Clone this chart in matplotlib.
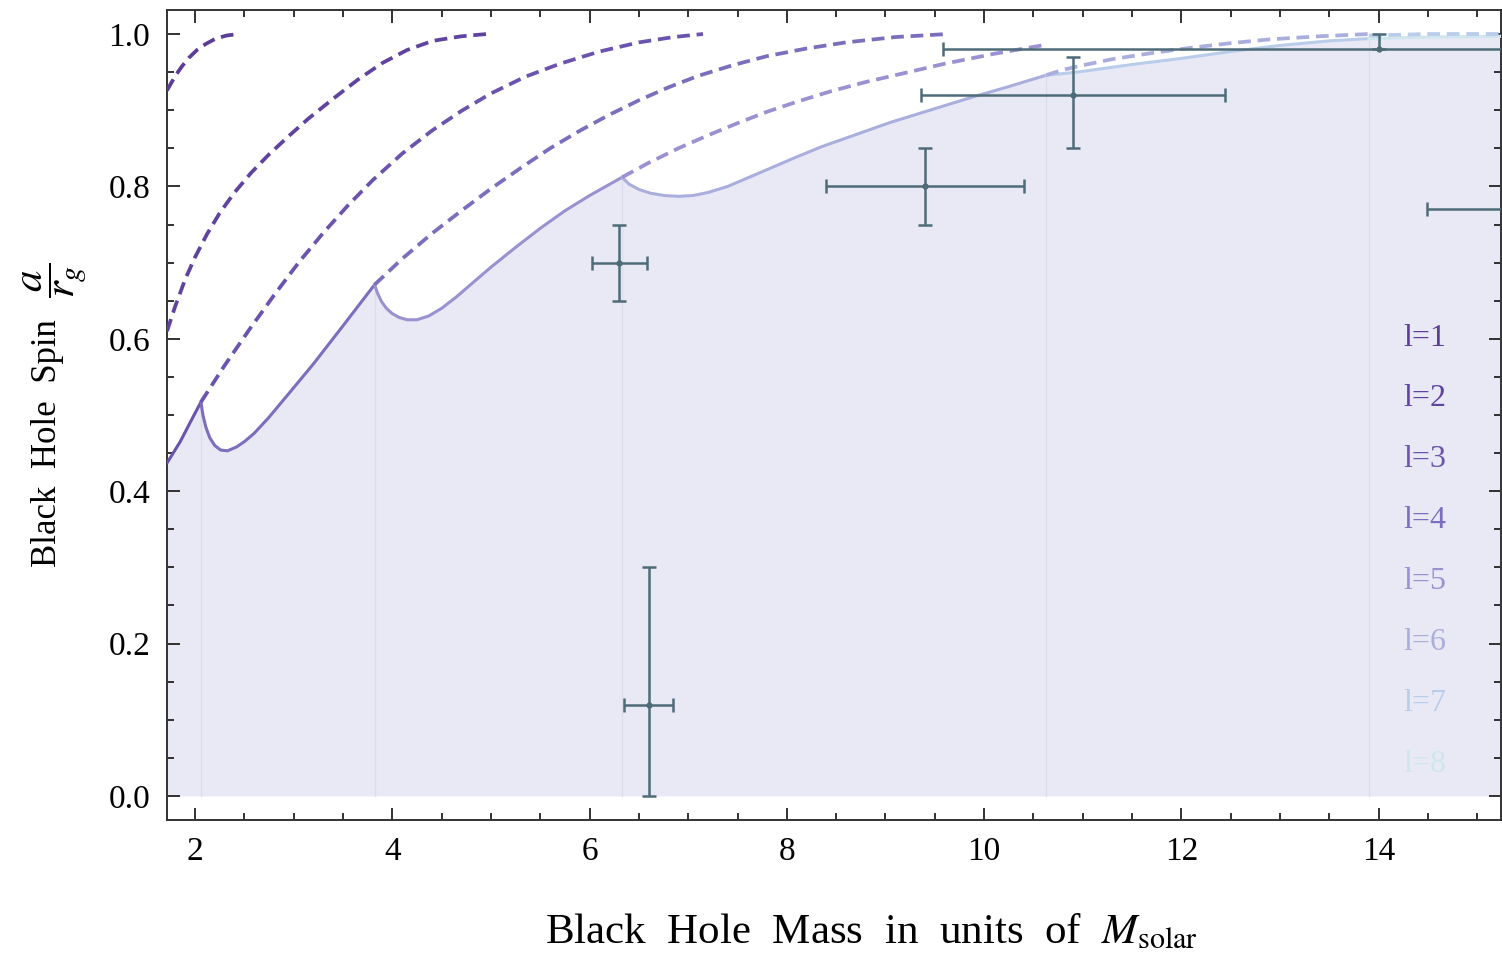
import matplotlib
matplotlib.use("Agg")
import matplotlib.pyplot as plt
from matplotlib.ticker import MultipleLocator

# ---- data ----
# dashed trajectories, one per l
DASH_L1_X = [1.716, 1.76, 1.81, 1.87, 1.94, 2.02, 2.11, 2.21, 2.32, 2.44]
DASH_L1_Y = [0.926, 0.936, 0.947, 0.958, 0.969, 0.979, 0.987, 0.994, 0.998, 1.000]
DASH_L2_X = [1.716, 1.80, 1.90, 2.00, 2.12, 2.25, 2.40, 2.57, 2.75, 2.95, 3.15, 3.40,
             3.65, 3.90, 4.15, 4.41, 4.70, 4.96]
DASH_L2_Y = [0.610, 0.643, 0.678, 0.707, 0.737, 0.765, 0.792, 0.818, 0.842, 0.866,
             0.889, 0.915, 0.940, 0.962, 0.979, 0.991, 0.997, 1.000]
DASH_L3_X = [2.06, 2.30, 2.55, 2.80, 3.05, 3.30, 3.55, 3.80, 4.10, 4.40, 4.70, 5.00,
             5.35, 5.70, 6.10, 6.50, 6.85, 7.15]
DASH_L3_Y = [0.517, 0.565, 0.612, 0.657, 0.700, 0.739, 0.775, 0.808, 0.843, 0.873,
             0.899, 0.922, 0.944, 0.961, 0.977, 0.989, 0.996, 1.000]
DASH_L4_X = [3.82, 4.10, 4.40, 4.70, 5.00, 5.30, 5.60, 5.90, 6.20, 6.50, 6.80, 7.10,
             7.45, 7.80, 8.20, 8.60, 9.10, 9.63]
DASH_L4_Y = [0.671, 0.705, 0.738, 0.768, 0.797, 0.824, 0.850, 0.873, 0.894, 0.913,
             0.930, 0.945, 0.959, 0.971, 0.981, 0.989, 0.996, 1.000]
DASH_L5_X = [6.33, 6.60, 6.90, 7.20, 7.50, 7.80, 8.10, 8.45, 8.80, 9.20, 9.60, 10.10, 10.63]
DASH_L5_Y = [0.812, 0.831, 0.850, 0.867, 0.883, 0.898, 0.911, 0.925, 0.937, 0.949,
             0.961, 0.974, 0.986]
DASH_L6_X = [10.63, 10.80, 11.00, 11.30, 11.70, 12.10, 12.50, 12.90, 13.40, 13.90]
DASH_L6_Y = [0.946, 0.953, 0.959, 0.967, 0.975, 0.982, 0.988, 0.993, 0.997, 1.000]
DASH_L7_X = [13.90, 14.50, 15.24]
DASH_L7_Y = [0.998, 1.000, 1.000]

# solid lower envelope, one piece per l
SOLID_L3_X = [1.716, 1.85, 1.95, 2.06]
SOLID_L3_Y = [0.437, 0.465, 0.490, 0.517]
SOLID_L4_X = [2.06, 2.08, 2.11, 2.15, 2.20, 2.26, 2.33, 2.42, 2.50, 2.60, 2.75, 2.95,
              3.20, 3.50, 3.82]
SOLID_L4_Y = [0.517, 0.500, 0.484, 0.470, 0.460, 0.454, 0.453, 0.458, 0.465, 0.476,
              0.497, 0.528, 0.567, 0.617, 0.671]
SOLID_L5_X = [3.82, 3.85, 3.89, 3.94, 4.00, 4.07, 4.15, 4.25, 4.37, 4.50, 4.65, 4.82,
              5.00, 5.25, 5.50, 5.75, 6.00, 6.33]
SOLID_L5_Y = [0.671, 0.660, 0.649, 0.640, 0.633, 0.628, 0.625, 0.625, 0.630, 0.640,
              0.655, 0.674, 0.694, 0.720, 0.745, 0.768, 0.788, 0.812]
SOLID_L6_X = [6.33, 6.40, 6.50, 6.62, 6.76, 6.90, 7.05, 7.20, 7.40, 7.60, 7.80, 8.05,
              8.35, 8.70, 9.05, 9.45, 9.85, 10.25, 10.63]
SOLID_L6_Y = [0.812, 0.803, 0.796, 0.791, 0.788, 0.787, 0.788, 0.792, 0.800, 0.811,
              0.822, 0.836, 0.852, 0.868, 0.884, 0.900, 0.916, 0.931, 0.946]
SOLID_L7_X = [10.63, 10.80, 11.00, 11.50, 12.00, 12.50, 13.00, 13.50, 13.90]
SOLID_L7_Y = [0.946, 0.948, 0.951, 0.960, 0.968, 0.977, 0.985, 0.991, 0.994]
SOLID_L8_X = [13.90, 14.50, 15.24]
SOLID_L8_Y = [0.994, 0.996, 0.997]

KINKS_X = [2.06, 3.82, 6.33, 10.63, 13.90]
KINKS_Y = [0.517, 0.671, 0.812, 0.946, 0.994]

# measured black holes
BH_MASS = [6.30, 6.60, 9.40, 10.90, 14.00, 15.65]
BH_SPIN = [0.70, 0.12, 0.80, 0.92, 0.98, 0.77]
BH_MASS_ERR = [0.28, 0.25, 1.00, 1.54, 4.42, 1.16]
BH_SPIN_LO = [0.05, 0.12, 0.05, 0.07, 0.00, 0.05]
BH_SPIN_HI = [0.05, 0.18, 0.05, 0.05, 0.02, 0.05]

L_LABELS = ["l=1", "l=2", "l=3", "l=4", "l=5", "l=6", "l=7", "l=8"]
L_COLORS = ["#5c3d99", "#5f449f", "#6a54ad", "#7c6dbd",
            "#9a91d0", "#aaaedd", "#b9cdea", "#cfe6ee"]

plt.rcParams["font.family"] = ["Liberation Serif", "DejaVu Serif"]
plt.rcParams["mathtext.fontset"] = "stix"

fig = plt.figure(figsize=(15.02, 9.56), dpi=100)
ax = fig.add_axes([167 / 1502, 1 - 820 / 956, 1334 / 1502, 810 / 956])

fill_col = "#e9e9f5"
solids = [(SOLID_L3_X, SOLID_L3_Y, 2), (SOLID_L4_X, SOLID_L4_Y, 3),
          (SOLID_L5_X, SOLID_L5_Y, 4), (SOLID_L6_X, SOLID_L6_Y, 5),
          (SOLID_L7_X, SOLID_L7_Y, 6), (SOLID_L8_X, SOLID_L8_Y, 7)]
for sx, sy, ci in solids:
    ax.fill_between(sx, 0, sy, color=fill_col, lw=0, zorder=1)
for kx, ky in zip(KINKS_X, KINKS_Y):
    ax.plot([kx, kx], [0, ky], color="#dcdcec", lw=0.9, zorder=1.5)
for sx, sy, ci in solids:
    ax.plot(sx, sy, color=L_COLORS[ci], lw=2.2, zorder=3,
            solid_capstyle="round", solid_joinstyle="round")

dashes = [(DASH_L1_X, DASH_L1_Y), (DASH_L2_X, DASH_L2_Y), (DASH_L3_X, DASH_L3_Y),
          (DASH_L4_X, DASH_L4_Y), (DASH_L5_X, DASH_L5_Y), (DASH_L6_X, DASH_L6_Y),
          (DASH_L7_X, DASH_L7_Y)]
for i, (dx, dy) in enumerate(dashes):
    ax.plot(dx, dy, color=L_COLORS[i], lw=2.7, ls=(0, (3.4, 1.8)), zorder=3)

ax.errorbar(BH_MASS, BH_SPIN, xerr=BH_MASS_ERR, yerr=[BH_SPIN_LO, BH_SPIN_HI],
            fmt="o", ms=3.5, color="#4e6b78", ecolor="#4e6b78", elinewidth=1.8,
            capsize=5, capthick=1.8, zorder=4)

for i, lab in enumerate(L_LABELS):
    ax.text(14.47, 0.601 - 0.0800 * i, lab, color=L_COLORS[i], fontsize=23,
            ha="center", va="center", zorder=5)

ax.set_xlim(1.716, 15.24)
ax.set_ylim(-0.0315, 1.0315)
ax.xaxis.set_major_locator(MultipleLocator(2))
ax.xaxis.set_minor_locator(MultipleLocator(0.5))
ax.yaxis.set_major_locator(MultipleLocator(0.2))
ax.yaxis.set_minor_locator(MultipleLocator(0.05))
ax.yaxis.set_major_formatter(plt.FormatStrFormatter("%.1f"))
ax.tick_params(which="both", direction="in", top=True, right=True, width=1.3,
               labelsize=24, color="#222222")
ax.tick_params(which="major", length=9, pad=12)
ax.tick_params(which="minor", length=5)
for sp in ax.spines.values():
    sp.set_linewidth(1.4)
    sp.set_color("#333333")

# y label: words plus a larger fraction, as in the original
fig.text(47 / 1502, 1 - 443 / 956, "Black  Hole  Spin",
         rotation=90, ha="center", va="center", fontsize=25)
fig.text(54 / 1502, 1 - 280 / 956, r"$\dfrac{a}{r_g}$",
         rotation=90, ha="center", va="center", fontsize=31)
fig.text(871 / 1502, 1 - 932 / 956,
         r"Black  Hole  Mass  in  units  of  $M_{\rm solar}$",
         ha="center", va="center", fontsize=31)

fig.savefig("out.png", dpi=100)
